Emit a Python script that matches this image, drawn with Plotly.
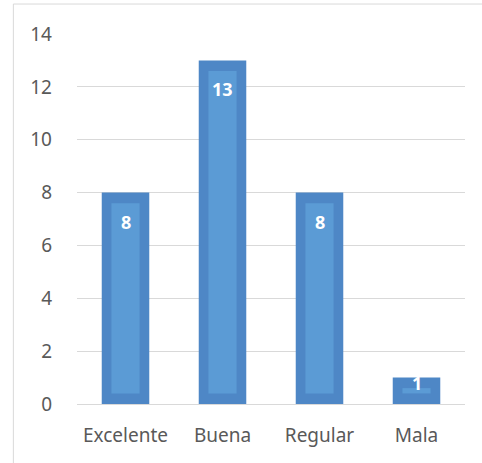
import plotly.graph_objects as go

categories = ["Excelente", "Buena", "Regular", "Mala"]
values = [8, 13, 8, 1]
y_ticks = [0, 2, 4, 6, 8, 10, 12, 14]

dark = "#4e87c6"
light = "#5b9bd5"
inset = 0.4  # bevel inset, in axis units

fig = go.Figure()

# outer (darker) bar
fig.add_trace(
    go.Bar(
        x=categories,
        y=values,
        width=0.49,
        marker_color=dark,
        marker_line_width=0,
        hoverinfo="skip",
    )
)

# inner lighter face of the bevel
fig.add_trace(
    go.Bar(
        x=categories,
        y=[v - 2 * inset for v in values],
        base=[inset] * len(values),
        width=0.29,
        marker_color=light,
        marker_line_width=0,
        hoverinfo="skip",
    )
)

# value labels inside the top of each bar
for c, v in zip(categories, values):
    fig.add_annotation(
        x=c,
        y=v,
        text="<b>{}</b>".format(v),
        showarrow=False,
        yanchor="middle",
        yshift=-29 if v >= 2 else -5,
        font=dict(color="white", size=18, family="Noto Sans"),
    )

# chart border (top and left visible)
fig.add_shape(
    type="rect",
    xref="paper",
    yref="paper",
    x0=-0.164,
    x1=1.3,
    y0=-0.3,
    y1=1.081,
    line=dict(color="#d9d9d9", width=1),
    layer="below",
)

fig.update_layout(
    barmode="overlay",
    width=482,
    height=463,
    showlegend=False,
    plot_bgcolor="white",
    paper_bgcolor="white",
    margin=dict(l=77, r=17, t=34, b=59, pad=0),
    font=dict(family="Noto Sans", size=19, color="#595959"),
)
fig.update_xaxes(
    showgrid=False,
    showline=False,
    zeroline=False,
    ticks="",
    ticklabelstandoff=18,
    tickfont=dict(size=19, color="#595959"),
)
fig.update_yaxes(
    range=[0, 14],
    tickvals=y_ticks,
    showgrid=True,
    gridcolor="#d9d9d9",
    gridwidth=1,
    zeroline=True,
    zerolinecolor="#d9d9d9",
    zerolinewidth=1,
    showline=False,
    ticks="",
    ticklabelstandoff=24,
    tickfont=dict(size=19, color="#595959"),
)

# the page's default body margin would shift the chart by 8px
fig.write_html(
    "out.html",
    config={"displayModeBar": False},
    post_script="document.body.style.margin='0';",
)
